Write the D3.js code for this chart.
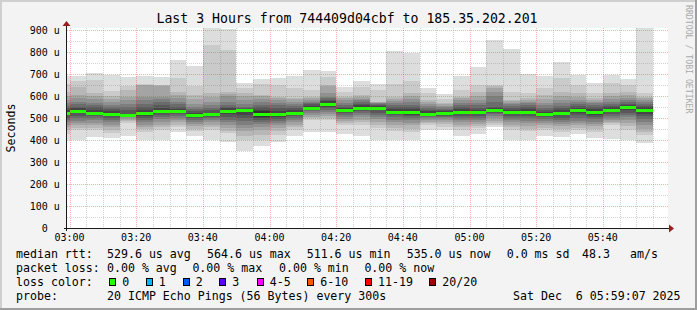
<!DOCTYPE html>
<html>
<head>
<meta charset="utf-8">
<script src="https://cdn.jsdelivr.net/npm/d3@7"></script>
<style>
  html, body { margin: 0; padding: 0; background: #f3f3f3; }
  svg { display: block; }
  text { font-family: "DejaVu Sans Mono", monospace; white-space: pre; fill: #000; }
</style>
</head>
<body>
<svg id="chart" width="697" height="310"></svg>
<script>
// end time of each 5 minute bin
const binEnds = ["03:00","03:05","03:10","03:15","03:20","03:25","03:30","03:35","03:40","03:45",
  "03:50","03:55","04:00","04:05","04:10","04:15","04:20","04:25","04:30","04:35",
  "04:40","04:45","04:50","04:55","05:00","05:05","05:10","05:15","05:20","05:25",
  "05:30","05:35","05:40","05:45","05:50","05:55"];

// 20 sorted ping rtts per bin, in microseconds
const pings = [
  [402,428,445,458,470,482,492,502,512,520,526,535,545,556,568,582,598,620,655,690],
  [400,445,455,468,478,488,498,510,521,529,535,544,552,562,575,590,605,640,668,692],
  [415,445,455,466,478,491,500,508,515,520,526,535,548,559,570,585,600,612,673,705],
  [408,430,445,458,468,480,490,500,510,517,523,530,540,550,560,572,585,600,624,695],
  [420,476,485,492,498,503,507,509,510,511,512,520,535,550,565,580,597,627,647,686],
  [398,438,450,460,468,480,490,500,510,518,524,535,550,565,580,597,650,652,655,691],
  [400,445,458,470,483,495,505,515,523,529,535,545,558,572,585,597,645,648,650,688],
  [438,461,470,480,491,500,510,518,524,529,535,543,552,563,574,590,605,620,680,764],
  [418,441,452,463,474,483,492,500,507,512,516,523,532,542,551,565,585,605,645,738],
  [400,445,458,470,482,492,500,506,511,514,518,525,535,547,559,575,595,612,832,940],
  [390,430,442,455,468,480,492,505,516,530,538,544,551,559,575,598,610,620,809,905],
  [350,400,420,440,455,468,485,500,515,532,538,543,547,551,565,580,598,612,635,658],
  [374,400,425,445,461,472,482,492,500,506,530,536,548,560,572,585,598,605,653,677],
  [392,423,440,455,468,478,488,497,505,512,524,534,545,557,568,580,590,597,650,683],
  [420,445,458,470,482,491,500,508,515,520,528,536,545,555,565,575,585,592,635,692],
  [435,491,498,505,514,522,530,536,541,544,550,556,562,567,575,583,590,597,627,718],
  [435,491,500,510,520,528,536,545,552,560,570,576,583,590,597,615,645,650,688,714],
  [426,468,478,487,496,506,514,522,528,533,539,545,552,560,570,580,590,597,620,642],
  [420,468,480,492,503,514,522,530,537,543,551,557,564,572,580,588,597,605,642,668],
  [400,453,468,482,495,505,514,524,535,544,550,555,559,563,567,570,572,574,627,653],
  [400,441,455,468,483,493,503,512,520,525,533,540,548,558,568,578,588,597,653,805],
  [400,438,450,468,478,490,500,508,515,521,531,540,550,560,572,585,600,612,668,797],
  [444,468,476,484,491,498,504,510,514,517,523,530,538,546,555,564,573,582,612,638],
  [444,461,472,482,491,498,505,511,515,518,524,530,536,543,550,556,562,567,586,607],
  [420,445,458,470,482,491,500,510,518,525,533,541,550,560,570,580,590,597,627,692],
  [429,453,463,474,483,492,501,510,517,522,530,538,547,557,568,580,600,620,650,733],
  [460,468,478,488,498,508,516,524,530,534,538,545,551,575,600,620,635,645,650,854],
  [400,445,458,470,483,492,502,510,517,522,530,537,545,553,562,570,576,582,620,814],
  [400,441,452,464,476,488,498,508,517,524,534,542,550,558,566,574,582,589,612,698],
  [420,445,456,466,476,486,495,503,510,514,520,528,537,547,558,570,585,605,635,692],
  [412,438,450,462,473,483,493,502,512,520,528,536,545,555,566,580,600,620,680,753],
  [426,445,455,466,476,488,500,512,522,532,540,547,555,563,572,582,597,612,650,695],
  [411,438,450,462,473,483,494,505,515,524,534,542,550,558,566,574,582,589,612,658],
  [405,468,476,484,491,500,510,518,526,532,540,548,556,565,575,585,598,612,658,695],
  [400,445,462,478,493,505,515,524,535,544,552,558,565,572,580,590,605,620,650,677],
  [385,423,438,452,466,483,495,508,520,530,540,548,556,564,572,580,590,597,612,935]
];

const xTickLabels = ["03:00","03:20","03:40","04:00","04:20","04:40","05:00","05:20","05:40"];
const yTicks = [0,100,200,300,400,500,600,700,800,900];

const rttStats = ["529.6 us avg","564.6 us max","511.6 us min","535.0 us now","0.0 ms sd","48.3","am/s"];
const lossStats = ["0.00 % avg","0.00 % max","0.00 % min","0.00 % now"];
const lossLabels = ["0","1","2","3","4-5","6-10","11-19","20/20"];
const lossColors = ["#26ff00","#00b8ff","#0059ff","#5e00ff","#ff00ff","#ff5500","#ff0000","#a10000"];

const title = "Last 3 Hours from 744409d04cbf to 185.35.202.201";
const probeText = "20 ICMP Echo Pings (56 Bytes) every 300s";
const dateText = "Sat Dec  6 05:59:07 2025";

const toMin = s => { const [h, m] = s.split(":"); return +h * 60 + +m; };

const plotL = 67, plotR = 667, plotT = 28, plotB = 228;
const x = d3.scaleLinear().domain([179.25, 359.25]).range([plotL, plotR]);
const y = d3.scaleLinear().domain([0, 909.1]).range([plotB, plotT]);

const bins = binEnds.map((t, i) => ({ t: toMin(t), p: pings[i], med: (pings[i][9] + pings[i][10]) / 2 }));

const svg = d3.select("#chart");

// background + frame
svg.append("rect").attr("width", 697).attr("height", 310).attr("fill", "#f3f3f3");
svg.append("rect").attr("x", 0).attr("y", 0).attr("width", 697).attr("height", 2).attr("fill", "#cfcfcf");
svg.append("rect").attr("x", 0).attr("y", 0).attr("width", 2).attr("height", 310).attr("fill", "#cfcfcf");
svg.append("rect").attr("x", 0).attr("y", 308).attr("width", 697).attr("height", 2).attr("fill", "#9e9e9e");
svg.append("rect").attr("x", 695).attr("y", 0).attr("width", 2).attr("height", 310).attr("fill", "#9e9e9e");

svg.append("defs").append("clipPath").attr("id", "plotclip")
  .append("rect").attr("x", plotL).attr("y", plotT).attr("width", plotR - plotL + 1).attr("height", plotB - plotT);

svg.append("rect").attr("x", plotL).attr("y", plotT).attr("width", plotR - plotL + 1).attr("height", plotB - plotT)
  .attr("fill", "#fff");

// smoke
const smoke = svg.append("g").attr("clip-path", "url(#plotclip)").attr("shape-rendering", "crispEdges");
for (let i = 0; i < 10; i++) {
  const c = 19 * (9 - i) + 50;
  smoke.append("g").selectAll("rect").data(bins).join("rect")
    .attr("x", d => x(d.t - 5))
    .attr("width", d => x(d.t) - x(d.t - 5))
    .attr("y", d => y(d.p[19 - i]))
    .attr("height", d => y(d.p[i]) - y(d.p[19 - i]))
    .attr("fill", d3.rgb(c, c, c));
}
// median
smoke.append("g").selectAll("rect").data(bins).join("rect")
  .attr("x", d => x(d.t - 5))
  .attr("width", d => x(d.t) - x(d.t - 5))
  .attr("y", d => Math.round(y(d.med)) - 1)
  .attr("height", 3)
  .attr("fill", lossColors[0]);

// grid on top
const grid = svg.append("g").attr("stroke-dasharray", "1,1").attr("stroke-width", 1);
const minorX = d3.range(180, 360, 5).filter(m => (m - 180) % 20 !== 0);
const majorX = d3.range(180, 360, 20);
const minorY = d3.range(50, 910, 100);
grid.selectAll(".mx").data(minorX).join("line")
  .attr("x1", d => Math.round(x(d)) + 0.5).attr("x2", d => Math.round(x(d)) + 0.5)
  .attr("y1", plotT).attr("y2", plotB)
  .attr("stroke", "rgba(128,128,128,0.35)");
grid.selectAll(".my").data(minorY).join("line")
  .attr("x1", plotL).attr("x2", plotR + 1)
  .attr("y1", d => Math.round(y(d)) + 0.5).attr("y2", d => Math.round(y(d)) + 0.5)
  .attr("stroke", "rgba(128,128,128,0.35)");
grid.selectAll(".Mx").data(majorX).join("line")
  .attr("x1", d => Math.round(x(d)) + 0.5).attr("x2", d => Math.round(x(d)) + 0.5)
  .attr("y1", plotT).attr("y2", plotB)
  .attr("stroke", "rgba(255,50,50,0.4)");
grid.selectAll(".My").data(yTicks.filter(v => v > 0)).join("line")
  .attr("x1", plotL).attr("x2", plotR + 1)
  .attr("y1", d => Math.round(y(d)) + 0.5).attr("y2", d => Math.round(y(d)) + 0.5)
  .attr("stroke", "rgba(255,50,50,0.4)");

// axes
svg.append("line").attr("x1", 64).attr("x2", 669).attr("y1", plotB + 0.5).attr("y2", plotB + 0.5)
  .attr("stroke", "#1a1a1a");
svg.append("line").attr("x1", plotL - 0.5).attr("x2", plotL - 0.5).attr("y1", plotB + 3).attr("y2", 24)
  .attr("stroke", "#1a1a1a");
svg.append("path").attr("d", "M669,224.5L669,232.5L674,228.5Z").attr("fill", "#9b1c1c");
svg.append("path").attr("d", "M62.5,26L70.5,26L66.5,21Z").attr("fill", "#9b1c1c");

// axis labels
svg.append("g").selectAll("text").data(yTicks).join("text")
  .attr("x", 59.8).attr("y", d => y(d) + 3.6)
  .attr("text-anchor", "end").style("font-size", "10px")
  .text(d => d === 0 ? "0  " : d + " u");
svg.append("g").selectAll("text").data(xTickLabels).join("text")
  .attr("x", d => x(toMin(d))).attr("y", 241)
  .attr("text-anchor", "middle").style("font-size", "10px")
  .text(d => d);

svg.append("text").attr("transform", "translate(14.5,128) rotate(-90)")
  .attr("text-anchor", "middle").style("font-size", "11.6px").text("Seconds");

svg.append("text").attr("x", 347).attr("y", 23).attr("text-anchor", "middle")
  .style("font-size", "13.2px").text(title);

svg.append("text").attr("transform", "translate(685.5,5) rotate(90)")
  .style("font-size", "8.2px").style("fill", "#aaaaaa").text("RRDTOOL / TOBI OETIKER");

// legend
const lg = svg.append("g").style("font-size", "11.6px");
lg.append("text").attr("x", 16).attr("y", 258).text("median rtt:");
const rttX = [107, 207, 306.7, 406.7, 506.7, 582, 630];
lg.selectAll(".rtt").data(rttStats).join("text").attr("x", (d, i) => rttX[i]).attr("y", 258).text(d => d);

lg.append("text").attr("x", 16).attr("y", 272).text("packet loss:");
const lossX = [107, 192.4, 279, 364.4];
lg.selectAll(".pl").data(lossStats).join("text").attr("x", (d, i) => lossX[i]).attr("y", 272).text(d => d);

lg.append("text").attr("x", 16).attr("y", 286).text("loss color:");
const swX = [109.3, 145.7, 182.7, 219.3, 256.7, 307.3, 365, 429.3];
const sw = lg.selectAll(".sw").data(lossLabels).join("g");
sw.append("rect").attr("x", (d, i) => Math.round(swX[i]) + 0.5).attr("y", 278.5)
  .attr("width", 6).attr("height", 7)
  .attr("fill", (d, i) => lossColors[i]).attr("stroke", "#000").attr("stroke-width", 1);
sw.append("text").attr("x", (d, i) => swX[i] + 13).attr("y", 286).text(d => d);

lg.append("text").attr("x", 16).attr("y", 300).text("probe:");
lg.append("text").attr("x", 107).attr("y", 300).text(probeText);
lg.append("text").attr("x", 513).attr("y", 300).text(dateText);
</script>
</body>
</html>
